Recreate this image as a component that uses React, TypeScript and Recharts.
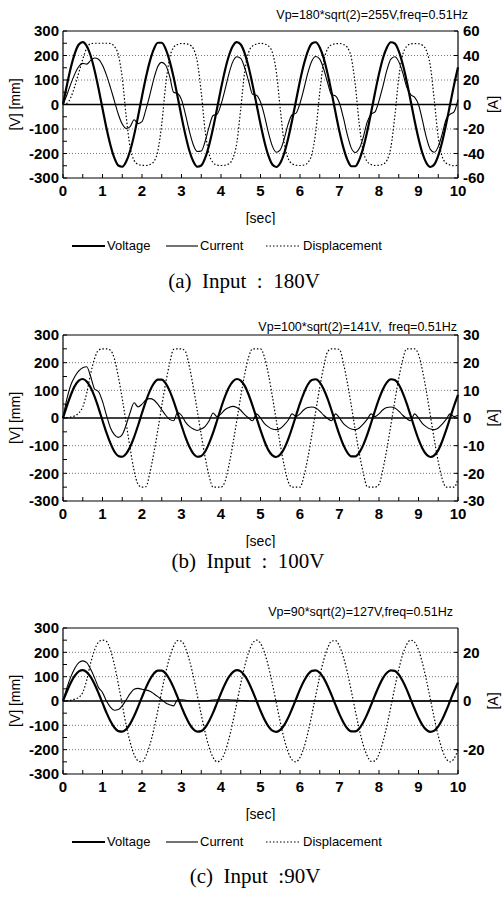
// Three stacked actuator response plots (voltage / current / displacement vs time),
// each a recharts LineChart with a left [V][mm] axis and a right [A] axis.
import { LineChart, Line, XAxis, YAxis, ReferenceLine, Label } from 'recharts';

const TIME = [
  0, 0.1, 0.2, 0.3, 0.4, 0.5, 0.6, 0.7, 0.8, 0.9,
  1, 1.1, 1.2, 1.3, 1.4, 1.5, 1.6, 1.7, 1.8, 1.9,
  2, 2.1, 2.2, 2.3, 2.4, 2.5, 2.6, 2.7, 2.8, 2.9,
  3, 3.1, 3.2, 3.3, 3.4, 3.5, 3.6, 3.7, 3.8, 3.9,
  4, 4.1, 4.2, 4.3, 4.4, 4.5, 4.6, 4.7, 4.8, 4.9,
  5, 5.1, 5.2, 5.3, 5.4, 5.5, 5.6, 5.7, 5.8, 5.9,
  6, 6.1, 6.2, 6.3, 6.4, 6.5, 6.6, 6.7, 6.8, 6.9,
  7, 7.1, 7.2, 7.3, 7.4, 7.5, 7.6, 7.7, 7.8, 7.9,
  8, 8.1, 8.2, 8.3, 8.4, 8.5, 8.6, 8.7, 8.8, 8.9,
  9, 9.1, 9.2, 9.3, 9.4, 9.5, 9.6, 9.7, 9.8, 9.9,
  10,
];

const X_TICKS = [0, 0.5, 1, 1.5, 2, 2.5, 3, 3.5, 4, 4.5, 5, 5.5, 6, 6.5, 7, 7.5, 8, 8.5, 9, 9.5, 10];
const LEFT_TICKS = [-300, -250, -200, -150, -100, -50, 0, 50, 100, 150, 200, 250, 300];
const GRID_VALUES = [-200, -100, 100, 200];

// (a) 180 V input
const VOLT_A = [
  0, 80, 152, 209, 245, 255, 239, 199, 139, 65,
  -16, -96, -165, -218, -249, -254, -233, -189, -125, -49,
  33, 111, 177, 226, 252, 252, 226, 177, 111, 33,
  -49, -125, -189, -233, -254, -249, -218, -165, -96, -16,
  65, 139, 199, 239, 255, 245, 209, 152, 80, 0,
  -80, -152, -209, -245, -255, -239, -199, -139, -65, 16,
  96, 165, 218, 249, 254, 233, 189, 125, 49, -33,
  -111, -177, -226, -252, -252, -226, -177, -111, -33, 49,
  125, 189, 233, 254, 249, 218, 165, 96, 16, -65,
  -139, -199, -239, -255, -245, -209, -152, -80, 0, 80,
  152,
];
const CUR_A = [
  0, 8, 17, 25, 31, 33.6, 33, 36, 38, 37,
  32, 24, 14, 3, -8, -16, -19.6, -18, -12.4, -15.6,
  -14, -4, 8, 21, 31, 34.4, 32, 23, 10, 9,
  4, -8, -22, -33, -38.4, -38, -30, -18, -9, -8,
  0, 12, 25, 35, 39, 37.6, 30, 19, 8.4, 7.6,
  2, -9, -23, -34, -39, -37, -28, -16, -8.4, -7,
  1, 13, 26, 35.6, 39.2, 37, 29, 17.6, 8, 7,
  1, -11, -25, -35.6, -39.2, -36, -27, -14.4, -8, -6,
  3, 15, 28, 37, 39, 35, 26, 14.4, 8, 6,
  0, -13, -27, -36.6, -39, -34.4, -24, -12, -8, -6,
  4,
];
const DISP_A = [
  0, 5, 30, 75, 130, 185, 230, 248, 250, 250,
  250, 250, 249, 237, 203, 109, -49, -175, -228, -244,
  -248, -249, -245, -233, -190, -80, 80, 190, 233, 245,
  249, 248, 244, 228, 175, 49, -109, -203, -237, -247,
  -249, -248, -242, -220, -157, -17, 134, 213, 239, 247,
  250, 247, 239, 213, 134, -17, -157, -220, -242, -248,
  -249, -247, -237, -203, -109, 49, 175, 228, 244, 248,
  249, 245, 233, 190, 80, -80, -190, -233, -245, -249,
  -248, -244, -228, -175, -49, 109, 203, 237, 247, 249,
  248, 242, 220, 157, 17, -134, -213, -239, -247, -250,
  -247,
];

// (b) 100 V input
const VOLT_B = [
  0, 44, 84, 116, 135, 141, 132, 110, 77, 36,
  -9, -53, -91, -121, -137, -140, -129, -104, -69, -27,
  18, 61, 98, 125, 139, 139, 125, 98, 61, 18,
  -27, -69, -104, -129, -140, -137, -121, -91, -53, -9,
  36, 77, 110, 132, 141, 135, 116, 84, 44, 0,
  -44, -84, -116, -135, -141, -132, -110, -77, -36, 9,
  53, 91, 121, 137, 140, 129, 104, 69, 27, -18,
  -61, -98, -125, -139, -139, -125, -98, -61, -18, 27,
  69, 104, 129, 140, 137, 121, 91, 53, 9, -36,
  -77, -110, -132, -141, -135, -116, -84, -44, 0, 44,
  84,
];
const CUR_B = [
  0, 7, 12, 15, 17, 18.2, 18.5, 15, 10.5, 9.5,
  6, 1, -3.5, -6, -7, -6, -2.5, 2, 5.5, 4,
  5, 6.5, 7, 6.5, 5, 3, 1, -0.5, -1, 2,
  1, -1.5, -3, -4, -4.5, -4, -3, -1, 1.8, 0.5,
  1.5, 3, 3.8, 4.2, 3.8, 2.8, 1.2, 0, -1, 1.5,
  0, -2, -3.2, -4, -4.2, -3.8, -2.5, -0.8, 1.5, 0.5,
  1.5, 3, 3.8, 4, 3.6, 2.5, 1, -0.2, -1, 1.5,
  0, -2, -3.2, -4, -4.2, -3.6, -2.2, -0.5, 1.5, 0.5,
  1.5, 3, 3.8, 4, 3.6, 2.5, 1, -0.2, -1, 1.5,
  0, -2, -3.2, -4, -4.2, -3.6, -2.2, -0.5, 1.5, 0.5,
  1,
];
const DISP_B = [
  0, 1, 3, 8, 18, 40, 90, 160, 215, 245,
  250, 250, 245, 215, 150, 70, -20, -110, -190, -240,
  -250, -248, -197, -127, -44, 44, 127, 197, 248, 250,
  250, 240, 185, 111, 26, -61, -143, -210, -250, -250,
  -250, -230, -172, -95, -9, 78, 158, 220, 250, 250,
  250, 220, 158, 78, -9, -95, -172, -230, -250, -250,
  -250, -210, -143, -61, 26, 111, 185, 240, 250, 250,
  248, 197, 127, 44, -44, -127, -197, -248, -250, -250,
  -240, -185, -111, -26, 61, 143, 210, 250, 250, 250,
  230, 172, 95, 9, -78, -158, -220, -250, -250, -250,
  -220,
];

// (c) 90 V input
const VOLT_C = [
  0, 40, 76, 104, 122, 127, 119, 99, 69, 32,
  -8, -48, -82, -109, -124, -126, -116, -94, -62, -24,
  16, 55, 88, 113, 125, 125, 113, 88, 55, 16,
  -24, -62, -94, -116, -126, -124, -109, -82, -48, -8,
  32, 69, 99, 119, 127, 122, 104, 76, 40, 0,
  -40, -76, -104, -122, -127, -119, -99, -69, -32, 8,
  48, 82, 109, 124, 126, 116, 94, 62, 24, -16,
  -55, -88, -113, -125, -125, -113, -88, -55, -16, 24,
  62, 94, 116, 126, 124, 109, 82, 48, 8, -32,
  -69, -99, -119, -127, -122, -104, -76, -40, 0, 40,
  76,
];
const CUR_C = [
  0, 5.5, 10, 13.5, 15.8, 16.5, 15.8, 13, 9.5, 5.5,
  3.5, 0, -2.5, -3.8, -3.5, -2, 0.5, 3, 4.8, 5.2,
  4.8, 4.5, 4, 3, 1.8, 0.5, -0.8, -1.5, -2, 0.5,
  0.5, 0.3, 0.1, 0, 0, 0, 0, 0.2, 0.4, 0.5,
  0.5, 0.5, 0.5, 0.4, 0.3, 0.2, 0.1, 0, 0, 0,
  0, 0, 0, 0, 0, 0, 0, 0, 0, 0,
  0, 0, 0, 0, 0, 0, 0, 0, 0, 0,
  0, 0, 0, 0, 0, 0, 0, 0, 0, 0,
  0, 0, 0, 0, 0, 0, 0, 0, 0, 0,
  0, 0, 0, 0, 0, 0, 0, 0, 0, 0,
  0,
];
const DISP_C = [
  0, 1, 3, 8, 15, 35, 86, 156, 210, 242,
  250, 245, 210, 150, 70, -15, -100, -170, -220, -246,
  -250, -225, -180, -116, -40, 40, 116, 180, 225, 248,
  246, 218, 168, 101, 24, -56, -130, -191, -232, -250,
  -242, -210, -156, -86, -8, 71, 143, 200, 237, 250,
  237, 200, 143, 71, -8, -86, -156, -210, -242, -250,
  -232, -191, -130, -56, 24, 101, 168, 218, 246, 248,
  225, 180, 116, 40, -40, -116, -180, -225, -248, -246,
  -218, -168, -101, -24, 56, 130, 191, 232, 250, 242,
  210, 156, 86, 8, -71, -143, -200, -237, -250, -237,
  -200,
];

const AMP_TICKS_A = [-60, -40, -20, 0, 20, 40, 60];
const AMP_TICKS_B = [-30, -20, -10, 0, 10, 20, 30];
const AMP_TICKS_C = [-20, 0, 20];

const SANS = '"Liberation Sans", Arial, Helvetica, sans-serif';
const SERIF = '"Liberation Serif", "Times New Roman", serif';
const tickStyle = { fontSize: 15, fontWeight: 700, fontFamily: SANS, fill: '#000' };
const axisLine = { stroke: '#000', strokeWidth: 1.2 };

interface PanelProps {
  top: number;
  plotH: number;
  volt: number[];
  cur: number[];
  disp: number[];
  ampDomain: [number, number];
  ampTicks: number[];
}

function Panel({ top, plotH, volt, cur, disp, ampDomain, ampTicks }: PanelProps) {
  const rows = TIME.map((t, i) => ({ t, v: volt[i], c: cur[i], d: disp[i] }));
  return (
    <div style={{ position: 'absolute', left: 0, top }}>
      <LineChart width={503} height={31 + plotH + 47} data={rows} margin={{ top: 31, right: 5, bottom: 2, left: 8 }}>
        <XAxis dataKey="t" type="number" domain={[0, 10]} ticks={X_TICKS} interval={0} height={45}
          tickFormatter={(v: number) => (Number.isInteger(v) ? String(v) : '')}
          tickSize={-4} tickMargin={11} tick={tickStyle} axisLine={axisLine} tickLine={{ stroke: '#000' }}>
          <Label value="[sec]" position="insideBottom" offset={0}
            style={{ fontSize: 14, fontFamily: SANS, fill: '#000' }} />
        </XAxis>
        <YAxis yAxisId="left" domain={[-300, 300]} ticks={LEFT_TICKS} interval={0} width={55}
          tickFormatter={(v: number) => (v % 100 === 0 ? String(v) : '')}
          tickSize={-4} tickMargin={8} tick={tickStyle} axisLine={axisLine} tickLine={{ stroke: '#000' }}>
          <Label value="[V] [mm]" angle={-90} position="insideLeft" offset={7}
            style={{ fontSize: 14, fontFamily: SANS, fill: '#000', textAnchor: 'middle' }} />
        </YAxis>
        <YAxis yAxisId="right" orientation="right" domain={ampDomain} ticks={ampTicks} interval={0} width={40}
          tickSize={-4} tickMargin={9} tick={{ ...tickStyle, textAnchor: 'start' }} axisLine={axisLine} tickLine={{ stroke: '#000' }}>
          <Label value="[A]" angle={-90} position="insideRight" offset={5}
            style={{ fontSize: 14, fontFamily: SANS, fill: '#000', textAnchor: 'middle' }} />
        </YAxis>
        {GRID_VALUES.map((g) => (
          <ReferenceLine key={g} yAxisId="left" y={g} stroke="#555" strokeWidth={0.8} strokeDasharray="1 2" />
        ))}
        <ReferenceLine yAxisId="left" y={300} stroke="#000" strokeWidth={1.2} />
        <ReferenceLine yAxisId="left" y={0} stroke="#000" strokeWidth={1.6} />
        <Line yAxisId="left" type="monotone" dataKey="d" name="Displacement" stroke="#000" strokeWidth={1.2}
          strokeDasharray="1.5 2" dot={false} isAnimationActive={false} />
        <Line yAxisId="right" type="monotone" dataKey="c" name="Current" stroke="#000" strokeWidth={1.1}
          dot={false} isAnimationActive={false} />
        <Line yAxisId="left" type="monotone" dataKey="v" name="Voltage" stroke="#000" strokeWidth={2.2}
          dot={false} isAnimationActive={false} />
      </LineChart>
    </div>
  );
}

function Txt({ x, y, anchor, size, font, children }:
  { x: number; y: number; anchor: 'start' | 'middle' | 'end'; size: number; font: string; children: string }) {
  const h = size * 1.2;
  const pos: React.CSSProperties = anchor === 'start' ? { left: x } : anchor === 'end' ? { right: 503 - x } : { left: x, transform: 'translateX(-50%)' };
  return (
    <div style={{ position: 'absolute', top: y - h / 2, height: h, lineHeight: `${h}px`, fontSize: size, fontFamily: font, whiteSpace: 'pre', color: '#000', ...pos }}>
      {children}
    </div>
  );
}

function LegendRow({ y }: { y: number }) {
  return (
    <>
      <svg style={{ position: 'absolute', left: 0, top: y - 5 }} width={503} height={10}>
        <line x1={72} x2={105} y1={5} y2={5} stroke="#000" strokeWidth={2.2} />
        <line x1={166} x2={198} y1={5} y2={5} stroke="#000" strokeWidth={1.1} />
        <line x1={266} x2={300} y1={5} y2={5} stroke="#000" strokeWidth={1.1} strokeDasharray="1.5 2" />
      </svg>
      <Txt x={107} y={y} anchor="start" size={13} font={SANS}>Voltage</Txt>
      <Txt x={200} y={y} anchor="start" size={13} font={SANS}>Current</Txt>
      <Txt x={303} y={y} anchor="start" size={13} font={SANS}>Displacement</Txt>
    </>
  );
}

export default function App() {
  return (
    <div style={{ position: 'absolute', left: 0, top: 0, width: 503, height: 897, background: '#fff', overflow: 'hidden', fontFamily: SANS }}>
      <Txt x={468} y={15} anchor="end" size={12.5} font={SANS}>Vp=180*sqrt(2)=255V,freq=0.51Hz</Txt>
      <Panel top={0} plotH={147} volt={VOLT_A} cur={CUR_A} disp={DISP_A} ampDomain={[-60, 60]} ampTicks={AMP_TICKS_A} />
      <LegendRow y={246} />
      <Txt x={244} y={282} anchor="middle" size={21} font={SERIF}>(a)  Input  :  180V</Txt>

      <Txt x={457} y={327} anchor="end" size={12.5} font={SANS}>Vp=100*sqrt(2)=141V,  freq=0.51Hz</Txt>
      <Panel top={304} plotH={166} volt={VOLT_B} cur={CUR_B} disp={DISP_B} ampDomain={[-30, 30]} ampTicks={AMP_TICKS_B} />
      <Txt x={248} y={562} anchor="middle" size={21} font={SERIF}>(b)  Input  :  100V</Txt>

      <Txt x={453} y={612} anchor="end" size={12.5} font={SANS}>Vp=90*sqrt(2)=127V,freq=0.51Hz</Txt>
      <Panel top={597} plotH={146} volt={VOLT_C} cur={CUR_C} disp={DISP_C} ampDomain={[-30, 30]} ampTicks={AMP_TICKS_C} />
      <LegendRow y={842} />
      <Txt x={255} y={877} anchor="middle" size={21} font={SERIF}>(c)  Input  :90V</Txt>
    </div>
  );
}
